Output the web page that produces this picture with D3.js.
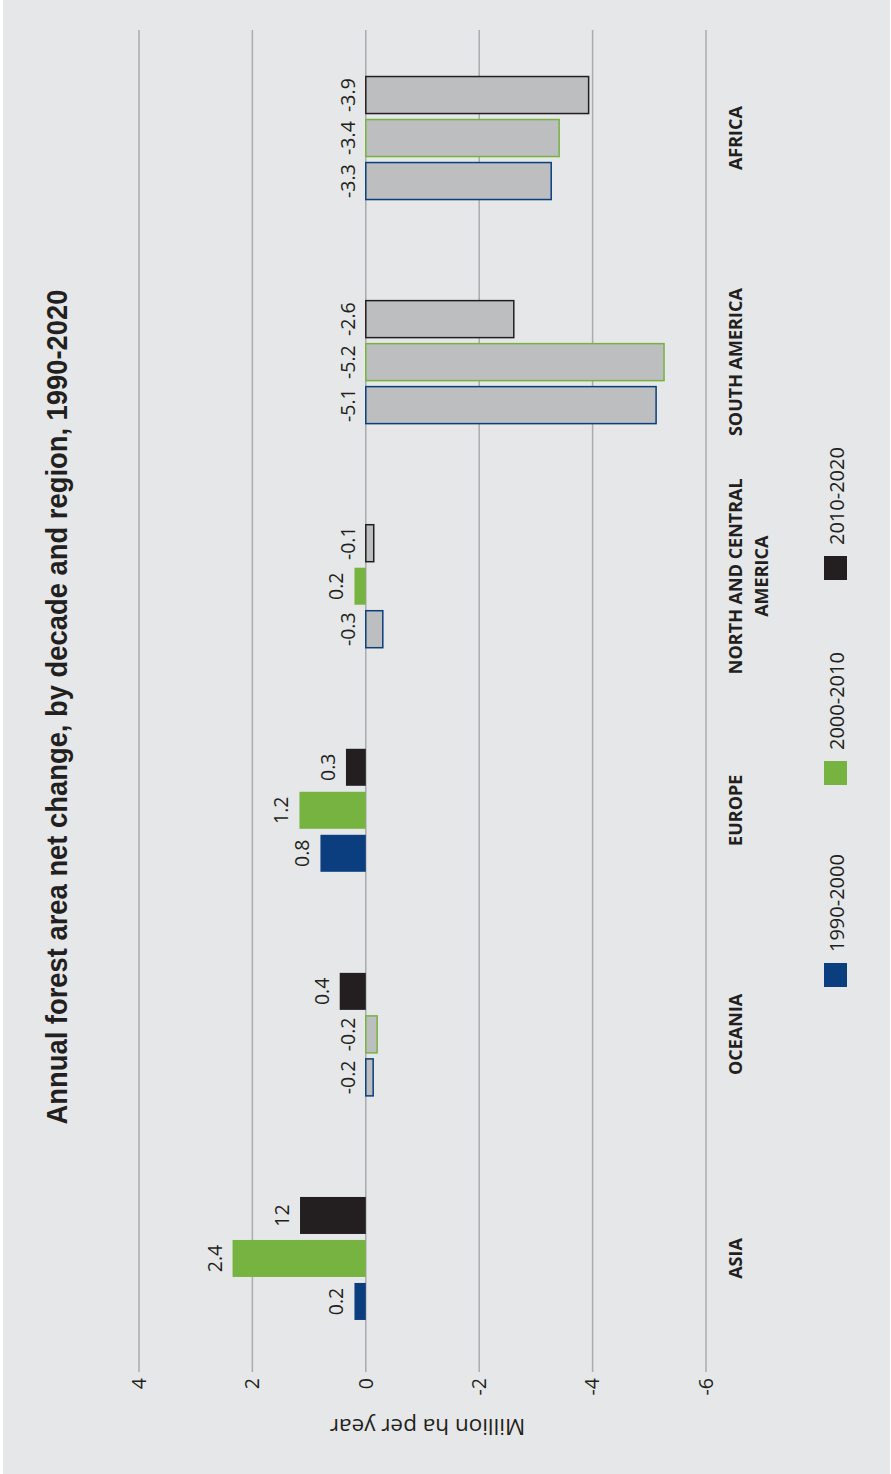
<!DOCTYPE html>
<html>
<head>
<meta charset="utf-8">
<script src="https://cdn.jsdelivr.net/npm/d3@7"></script>
<style>
  html, body { margin: 0; padding: 0; background: #ffffff; }
  svg { display: block; }
</style>
</head>
<body>
<svg id="chart" width="891" height="1474"></svg>
<script>
// ---- data ----
const categories = ["ASIA", "OCEANIA", "EUROPE", "NORTH AND CENTRAL AMERICA", "SOUTH AMERICA", "AFRICA"];
const categoryLines = [["ASIA"], ["OCEANIA"], ["EUROPE"], ["NORTH AND CENTRAL", "AMERICA"], ["SOUTH AMERICA"], ["AFRICA"]];
const seriesNames = ["1990-2000", "2000-2010", "2010-2020"];
const values1990 = [0.2, -0.13, 0.8, -0.3, -5.12, -3.27];
const values2000 = [2.35, -0.2, 1.17, 0.2, -5.26, -3.41];
const values2010 = [1.16, 0.46, 0.35, -0.14, -2.61, -3.93];
const labels1990 = ["0.2", "-0.2", "0.8", "-0.3", "-5.1", "-3.3"];
const labels2000 = ["2.4", "-0.2", "1.2", "0.2", "-5.2", "-3.4"];
const labels2010 = ["12", "0.4", "0.3", "-0.1", "-2.6", "-3.9"];
const tickValues = [4, 2, 0, -2, -4, -6];
const tickLabels = ["4", "2", "0", "-2", "-4", "-6"];
const titleText = "Annual forest area net change, by decade and region, 1990-2020";
const axisTitle = "Million ha per year";

const seriesColors = ["#0b3e7f", "#76b341", "#231f20"];
const lossFill = "#bcbec0";
const bg = "#e6e7e8";

const W = 891, H = 1474;
const svg = d3.select("#chart");
svg.append("rect").attr("x", 3).attr("y", 0).attr("width", W - 4).attr("height", H).attr("fill", bg);

// chart drawn in a rotated frame: local u (horizontal) -> page up, local v (vertical) -> page right
const g = svg.append("g").attr("transform", `translate(0,${H}) rotate(-90)`);

const y = d3.scaleLinear().domain([-6, 4]).range([706, 139]);
const x0 = d3.scaleBand().domain(categories).range([103.5, 1448]);
const x1 = d3.scaleBand().domain(seriesNames).range([-61.5, 61.5]).paddingInner(6 / 43);

const textFont = "'Open Sans', sans-serif";

// gridlines
g.append("g").selectAll("line").data(tickValues).join("line")
  .attr("x1", 102).attr("x2", 1444)
  .attr("y1", d => y(d)).attr("y2", d => y(d))
  .attr("stroke", "#a9abae").attr("stroke-width", 1.5);

// tick labels
g.append("g").selectAll("text").data(tickValues).join("text")
  .attr("x", 96).attr("y", d => y(d)).attr("dy", "0.35em")
  .attr("text-anchor", "end")
  .attr("font-family", textFont).attr("font-weight", 400)
  .attr("font-size", 19.5).attr("fill", "#231f20")
  .text((d, i) => tickLabels[i]);

// axis title
g.append("text")
  .attr("transform", `translate(47,${(y(4) + y(-6)) / 2 + 5}) rotate(-90)`)
  .attr("dy", "0.35em").attr("text-anchor", "middle")
  .attr("font-family", textFont).attr("font-weight", 400)
  .attr("font-size", 22.5).attr("fill", "#231f20")
  .text(axisTitle);

// bars
const allValues = [values1990, values2000, values2010];
const allLabels = [labels1990, labels2000, labels2010];
const rows = [];
categories.forEach((c, ci) => {
  seriesNames.forEach((s, si) => {
    rows.push({ cat: c, series: s, si, value: allValues[si][ci], label: allLabels[si][ci] });
  });
});

const bars = g.append("g");
bars.selectAll("rect").data(rows).join("rect")
  .attr("x", d => x0(d.cat) + x0.bandwidth() / 2 + x1(d.series))
  .attr("width", x1.bandwidth())
  .attr("y", d => Math.min(y(d.value), y(0)))
  .attr("height", d => Math.abs(y(d.value) - y(0)))
  .attr("fill", d => d.value >= 0 ? seriesColors[d.si] : lossFill)
  .attr("stroke", d => d.value >= 0 ? "none" : seriesColors[d.si])
  .attr("stroke-width", 1.5);

// value labels
bars.selectAll("text").data(rows).join("text")
  .attr("x", d => x0(d.cat) + x0.bandwidth() / 2 + x1(d.series) + x1.bandwidth() / 2)
  .attr("y", d => Math.min(y(d.value), y(0)) - 11)
  .attr("text-anchor", "middle")
  .attr("font-family", textFont).attr("font-weight", 400)
  .attr("font-size", 19.5).attr("fill", "#231f20")
  .text(d => d.label);

// category labels
const catG = g.append("g");
categories.forEach((c, ci) => {
  const shift = categoryLines[ci].length > 1 ? 10 : 0;
  const t = catG.append("text")
    .attr("text-anchor", "middle")
    .attr("font-family", textFont).attr("font-weight", 700)
    .attr("font-size", 18).attr("fill", "#231f20");
  categoryLines[ci].forEach((line, li) => {
    t.append("tspan").attr("x", x0(c) + x0.bandwidth() / 2 + shift).attr("y", 742 + li * 26).text(line);
  });
});

// legend
const legendU = [487, 689, 894];
const leg = g.append("g");
seriesNames.forEach((s, i) => {
  leg.append("rect").attr("x", legendU[i]).attr("y", 824).attr("width", 24).attr("height", 23)
    .attr("fill", seriesColors[i]);
  leg.append("text").attr("x", legendU[i] + 35).attr("y", 844)
    .attr("font-family", textFont).attr("font-weight", 400)
    .attr("font-size", 20).attr("fill", "#231f20")
    .text(s);
});

// title
g.append("text")
  .attr("x", 767).attr("y", 67)
  .attr("text-anchor", "middle")
  .attr("font-family", "'Liberation Sans Narrow', 'Arial Narrow', sans-serif").attr("font-weight", 700)
  .attr("font-size", 29).attr("fill", "#231f20")
  .attr("textLength", 835).attr("lengthAdjust", "spacingAndGlyphs")
  .text(titleText);
</script>
</body>
</html>
